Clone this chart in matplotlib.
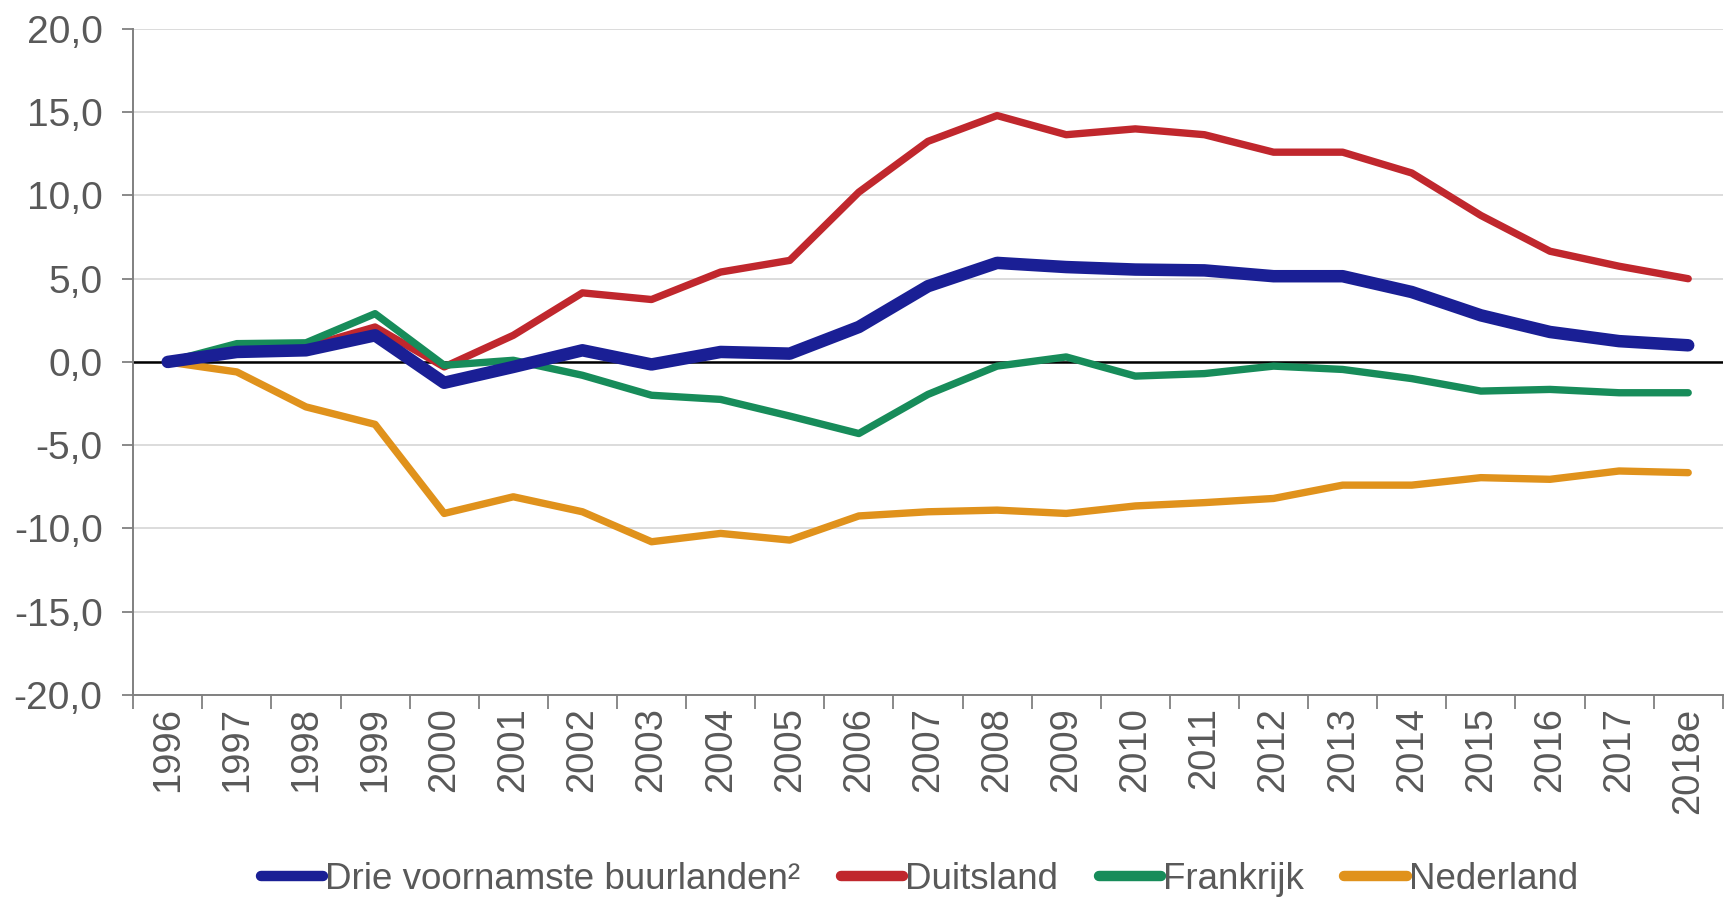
import numpy as np
import matplotlib
matplotlib.use("Agg")
import matplotlib.pyplot as plt

plt.rcParams['font.family'] = ['Liberation Sans', 'DejaVu Sans']

years = ['1996', '1997', '1998', '1999', '2000', '2001', '2002', '2003', '2004',
         '2005', '2006', '2007', '2008', '2009', '2010', '2011', '2012', '2013',
         '2014', '2015', '2016', '2017', '2018e']

buurlanden = [0.0, 0.6, 0.7, 1.6, -1.25, -0.3, 0.7, -0.15, 0.6, 0.5, 2.1, 4.55,
              5.95, 5.7, 5.55, 5.5, 5.15, 5.15, 4.2, 2.8, 1.8, 1.25, 1.0]
duitsland = [0.0, 0.7, 0.9, 2.1, -0.3, 1.6, 4.15, 3.75, 5.4, 6.1, 10.2, 13.25,
             14.8, 13.65, 14.0, 13.65, 12.6, 12.6, 11.35, 8.8, 6.65, 5.75, 5.0]
frankrijk = [0.0, 1.1, 1.15, 2.9, -0.2, 0.1, -0.8, -2.0, -2.25, -3.25, -4.3, -1.95,
             -0.25, 0.3, -0.85, -0.7, -0.25, -0.45, -1.0, -1.75, -1.65, -1.85, -1.85]
nederland = [0.0, -0.6, -2.7, -3.75, -9.1, -8.1, -9.0, -10.8, -10.3, -10.7, -9.25, -9.0,
             -8.9, -9.1, -8.65, -8.45, -8.2, -7.4, -7.4, -6.95, -7.05, -6.55, -6.65]

names = ['Drie voornamste buurlanden²', 'Duitsland', 'Frankrijk', 'Nederland']
colors = ['#1a1f95', '#c0272d', '#178c5a', '#e0921c']
txt = '#595959'

fig = plt.figure(figsize=(17.25, 9.06), dpi=100)
ax = fig.add_axes([0.0772, 0.233, 0.9215, 0.735])

x = np.arange(len(years))
ax.axhline(0, color='black', lw=1.8, zorder=2)
series = [buurlanden, duitsland, frankrijk, nederland]
widths = [9, 5.3, 5.3, 5.3]
order = [4, 3, 3, 3]
for s, c, w, n, z in zip(series, colors, widths, names, order):
    ax.plot(x, s, color=c, lw=w, label=n, solid_capstyle='round',
            solid_joinstyle='round', zorder=z)

ax.set_xlim(-0.5, len(years) - 0.5)
ax.set_ylim(-20, 20)
ax.set_yticks(np.arange(-20, 21, 5))
ax.set_yticklabels([('%.1f' % v).replace('.', ',') for v in np.arange(-20, 21, 5)])
ax.yaxis.grid(True, color='#d9d9d9', lw=1.3)
ax.set_axisbelow(True)

ax.set_xticks(x)
ax.set_xticklabels(years, rotation=90)
ax.set_xticks(np.arange(-0.5, len(years), 1), minor=True)
ax.tick_params(axis='x', which='major', length=0, pad=9, labelsize=27.5, labelcolor=txt)
ax.tick_params(axis='x', which='minor', length=10, width=1.3, color='#808080')
ax.tick_params(axis='y', length=8, width=1.3, color='#808080', pad=14,
               labelsize=28, labelcolor=txt)

for sp in ['top', 'right']:
    ax.spines[sp].set_visible(False)
for sp in ['left', 'bottom']:
    ax.spines[sp].set_color('#808080')
    ax.spines[sp].set_linewidth(1.4)

leg = fig.legend(loc='center', bbox_to_anchor=(0.533, 0.029), ncol=4, frameon=False,
                 fontsize=26.5, handlelength=1.7, handletextpad=0.05, columnspacing=1.1)
for t in leg.get_texts():
    t.set_color(txt)
for h in leg.get_lines():
    h.set_linewidth(7.5)

fig.savefig('out.png', dpi=100)
